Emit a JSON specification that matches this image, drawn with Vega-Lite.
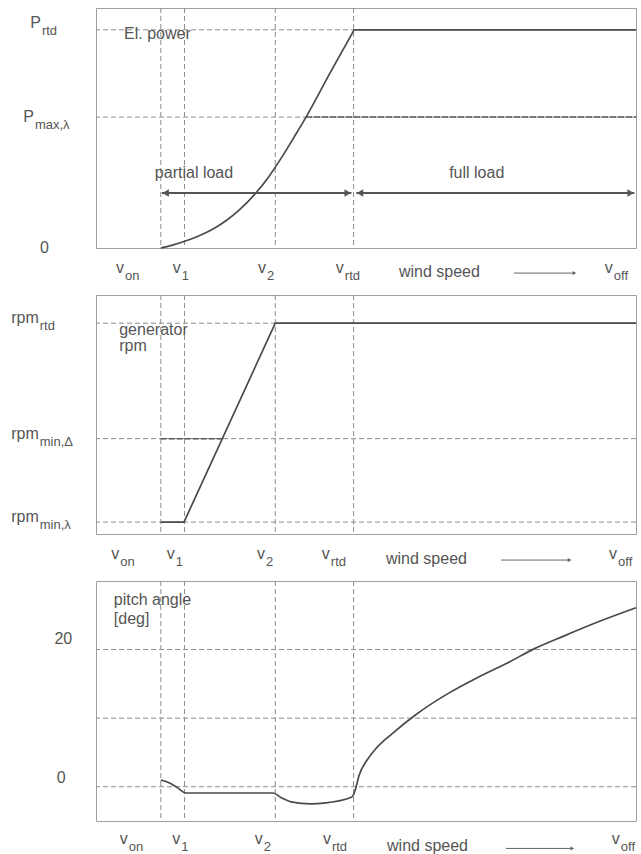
{
  "$schema": "https://vega.github.io/schema/vega-lite/v6.json",
  "padding": {"left": 10, "top": 7, "right": 5, "bottom": 0},
  "bounds": "flush",
  "spacing": 47,
  "config": {
    "view": {"stroke": "#a0a0a0", "strokeWidth": 1},
    "font": "Liberation Sans",
    "text": {"font": "Liberation Sans", "color": "#555555"}
  },
  "datasets": {
    "vgrid": [{"x": 12}, {"x": 16.4}, {"x": 33.2}, {"x": 47.7}],
    "p1_h": [{"y": 1}, {"y": 0.6}],
    "p1_curve": [
      {"x": 12, "y": 0}, {"x": 14, "y": 0.012}, {"x": 16.7, "y": 0.033}, {"x": 19, "y": 0.055},
      {"x": 21.5, "y": 0.085}, {"x": 24, "y": 0.124}, {"x": 26.5, "y": 0.174}, {"x": 29.6, "y": 0.252},
      {"x": 32, "y": 0.327}, {"x": 34.5, "y": 0.42}, {"x": 36.6, "y": 0.505}, {"x": 38.9, "y": 0.6},
      {"x": 43.3, "y": 0.8}, {"x": 47.8, "y": 1}
    ],
    "p1_flat": [{"x": 47.8, "x2": 100, "y": 1}],
    "p1_pmax": [{"x": 38.9, "x2": 100, "y": 0.6}],
    "p1_arrow": [{"x": 12.2, "x2": 47.3, "y": 0.252}, {"x": 48.2, "x2": 99.7, "y": 0.252}],
    "p1_heads": [
      {"x": 12.9, "y": 0.252, "sh": "triangle-left"}, {"x": 46.6, "y": 0.252, "sh": "triangle-right"},
      {"x": 48.9, "y": 0.252, "sh": "triangle-left"}, {"x": 99.0, "y": 0.252, "sh": "triangle-right"}
    ],
    "p1_text": [
      {"x": 5.2, "y": 0.98, "t": "El. power"}, {"x": 10.9, "y": 0.344, "t": "partial load"},
      {"x": 65.4, "y": 0.344, "t": "full load"}, {"x": 56.1, "y": -0.11, "t": "wind speed"}
    ],
    "p1_labels": [
      {"x": -10.2, "y": 1.031, "m": "P", "s": "rtd"}, {"x": -11.5, "y": 0.6, "m": "P", "s": "max,λ"},
      {"x": -8.7, "y": 0, "m": "0", "s": ""},
      {"x": 5.2, "y": -0.092, "m": "v", "s": "on"}, {"x": 15.7, "y": -0.092, "m": "v", "s": "1"},
      {"x": 31.5, "y": -0.092, "m": "v", "s": "2"}, {"x": 45.9, "y": -0.092, "m": "v", "s": "rtd"},
      {"x": 95.7, "y": -0.092, "m": "v", "s": "off"}
    ],
    "p1_ws": [{"x": 77.4, "x2": 88.4, "y": -0.115}],
    "p1_wshead": [{"x": 88.6, "y": -0.115}],
    "p2_h": [{"y": 88.2}, {"y": 39.9}, {"y": 5}],
    "p2_curve": [{"x": 12, "y": 5}, {"x": 16.3, "y": 5}, {"x": 33.2, "y": 88.2}, {"x": 100, "y": 88.2}],
    "p2_dash": [{"x": 12, "x2": 23.3, "y": 39.9}],
    "p2_text": [
      {"x": 4.3, "y": 85.3, "t": "generator"}, {"x": 4.3, "y": 78.6, "t": "rpm"},
      {"x": 53.7, "y": -10.5, "t": "wind speed"}
    ],
    "p2_labels": [
      {"x": -10.6, "y": 90.3, "m": "rpm", "s": "rtd"}, {"x": -10.6, "y": 42, "m": "rpm", "s": "min,Δ"},
      {"x": -10.6, "y": 7.1, "m": "rpm", "s": "min,λ"},
      {"x": 4.3, "y": -8.4, "m": "v", "s": "on"}, {"x": 14.6, "y": -8.4, "m": "v", "s": "1"},
      {"x": 31.3, "y": -8.4, "m": "v", "s": "2"}, {"x": 43.3, "y": -8.4, "m": "v", "s": "rtd"},
      {"x": 96.5, "y": -8.4, "m": "v", "s": "off"}
    ],
    "p2_ws": [{"x": 75, "x2": 87.5, "y": -10.9}],
    "p2_wshead": [{"x": 87.7, "y": -10.9}],
    "p3_h": [{"y": 0}, {"y": 10}, {"y": 20}],
    "p3_curve": [
      {"x": 12, "y": 0.98}, {"x": 13.9, "y": 0.45}, {"x": 15.0, "y": -0.1}, {"x": 16.7, "y": -0.92},
      {"x": 32.8, "y": -0.92}, {"x": 34.3, "y": -1.6}, {"x": 36.1, "y": -2.2}, {"x": 39.8, "y": -2.5},
      {"x": 42.2, "y": -2.4}, {"x": 47.4, "y": -1.5}, {"x": 48.0, "y": -0.5}, {"x": 48.7, "y": 1.6},
      {"x": 50.2, "y": 3.9}, {"x": 52.0, "y": 5.7}, {"x": 54.8, "y": 7.7}, {"x": 59.4, "y": 10.6},
      {"x": 65.0, "y": 13.5}, {"x": 70.6, "y": 15.9}, {"x": 76.1, "y": 18.0}, {"x": 81.1, "y": 20.1},
      {"x": 86.7, "y": 22.0}, {"x": 93.5, "y": 24.2}, {"x": 100, "y": 26.1}
    ],
    "p3_text": [
      {"x": 3.3, "y": 27.2, "t": "pitch angle"}, {"x": 3.3, "y": 24.5, "t": "[deg]"},
      {"x": 53.9, "y": -8.6, "t": "wind speed"}
    ],
    "p3_labels": [
      {"x": -4.4, "y": 21.5, "m": "20", "s": ""}, {"x": -5.6, "y": 1.3, "m": "0", "s": ""},
      {"x": 5.9, "y": -7.6, "m": "v", "s": "on"}, {"x": 15.6, "y": -7.6, "m": "v", "s": "1"},
      {"x": 30.9, "y": -7.6, "m": "v", "s": "2"}, {"x": 43.5, "y": -7.6, "m": "v", "s": "rtd"},
      {"x": 97.0, "y": -7.6, "m": "v", "s": "off"}
    ],
    "p3_ws": [{"x": 75.9, "x2": 88, "y": -9.0}],
    "p3_wshead": [{"x": 88.2, "y": -9.0}]
  },
  "vconcat": [
    {
      "width": 540, "height": 240,
      "layer": [
        {"data": {"name": "vgrid"}, "mark": {"type": "rule", "strokeDash": [5, 3], "color": "#8c8c8c", "strokeWidth": 1},
         "encoding": {"x": {"field": "x", "type": "quantitative", "scale": {"domain": [0, 100], "nice": false, "zero": false}, "axis": null}}},
        {"data": {"name": "p1_h"}, "mark": {"type": "rule", "strokeDash": [5, 3], "color": "#8c8c8c", "strokeWidth": 1},
         "encoding": {"y": {"field": "y", "type": "quantitative", "scale": {"domain": [0, 1.1], "nice": false, "zero": false}, "axis": null}}},
        {"data": {"name": "p1_pmax"}, "mark": {"type": "rule", "strokeDash": [6, 2], "color": "#555555", "strokeWidth": 1.5},
         "encoding": {"x": {"field": "x", "type": "quantitative", "scale": {"domain": [0, 100], "nice": false, "zero": false}, "axis": null}, "x2": {"field": "x2"},
                      "y": {"field": "y", "type": "quantitative", "scale": {"domain": [0, 1.1], "nice": false, "zero": false}, "axis": null}}},
        {"data": {"name": "p1_curve"}, "mark": {"type": "line", "color": "#4a4a4a", "strokeWidth": 1.7, "interpolate": "monotone"},
         "encoding": {"x": {"field": "x", "type": "quantitative", "scale": {"domain": [0, 100], "nice": false, "zero": false}, "axis": null},
                      "y": {"field": "y", "type": "quantitative", "scale": {"domain": [0, 1.1], "nice": false, "zero": false}, "axis": null}}},
        {"data": {"name": "p1_flat"}, "mark": {"type": "rule", "color": "#4a4a4a", "strokeWidth": 1.7},
         "encoding": {"x": {"field": "x", "type": "quantitative", "scale": {"domain": [0, 100], "nice": false, "zero": false}, "axis": null}, "x2": {"field": "x2"},
                      "y": {"field": "y", "type": "quantitative", "scale": {"domain": [0, 1.1], "nice": false, "zero": false}, "axis": null}}},
        {"data": {"name": "p1_arrow"}, "mark": {"type": "rule", "color": "#555555", "strokeWidth": 2},
         "encoding": {"x": {"field": "x", "type": "quantitative", "scale": {"domain": [0, 100], "nice": false, "zero": false}, "axis": null}, "x2": {"field": "x2"},
                      "y": {"field": "y", "type": "quantitative", "scale": {"domain": [0, 1.1], "nice": false, "zero": false}, "axis": null}}},
        {"data": {"name": "p1_heads"}, "mark": {"type": "point", "filled": true, "opacity": 1, "color": "#555555", "size": 55},
         "encoding": {"x": {"field": "x", "type": "quantitative", "scale": {"domain": [0, 100], "nice": false, "zero": false}, "axis": null},
                      "y": {"field": "y", "type": "quantitative", "scale": {"domain": [0, 1.1], "nice": false, "zero": false}, "axis": null},
                      "shape": {"field": "sh", "type": "nominal", "scale": null}}},
        {"data": {"name": "p1_ws"}, "mark": {"type": "rule", "color": "#666666", "strokeWidth": 1},
         "encoding": {"x": {"field": "x", "type": "quantitative", "scale": {"domain": [0, 100], "nice": false, "zero": false}, "axis": null}, "x2": {"field": "x2"},
                      "y": {"field": "y", "type": "quantitative", "scale": {"domain": [0, 1.1], "nice": false, "zero": false}, "axis": null}}},
        {"data": {"name": "p1_wshead"}, "mark": {"type": "point", "filled": true, "opacity": 1, "color": "#666666", "size": 18, "shape": "triangle-right"},
         "encoding": {"x": {"field": "x", "type": "quantitative", "scale": {"domain": [0, 100], "nice": false, "zero": false}, "axis": null},
                      "y": {"field": "y", "type": "quantitative", "scale": {"domain": [0, 1.1], "nice": false, "zero": false}, "axis": null}}},
        {"data": {"name": "p1_text"}, "mark": {"type": "text", "align": "left", "baseline": "middle", "fontSize": 16},
         "encoding": {"x": {"field": "x", "type": "quantitative", "scale": {"domain": [0, 100], "nice": false, "zero": false}, "axis": null},
                      "y": {"field": "y", "type": "quantitative", "scale": {"domain": [0, 1.1], "nice": false, "zero": false}, "axis": null},
                      "text": {"field": "t"}}},
        {"data": {"name": "p1_labels"}, "mark": {"type": "text", "align": "right", "baseline": "middle", "fontSize": 16},
         "encoding": {"x": {"field": "x", "type": "quantitative", "scale": {"domain": [0, 100], "nice": false, "zero": false}, "axis": null},
                      "y": {"field": "y", "type": "quantitative", "scale": {"domain": [0, 1.1], "nice": false, "zero": false}, "axis": null},
                      "text": {"field": "m"}}},
        {"data": {"name": "p1_labels"}, "mark": {"type": "text", "align": "left", "baseline": "middle", "fontSize": 13, "dy": 8, "dx": 1},
         "encoding": {"x": {"field": "x", "type": "quantitative", "scale": {"domain": [0, 100], "nice": false, "zero": false}, "axis": null},
                      "y": {"field": "y", "type": "quantitative", "scale": {"domain": [0, 1.1], "nice": false, "zero": false}, "axis": null},
                      "text": {"field": "s"}}}
      ]
    },
    {
      "width": 540, "height": 239,
      "layer": [
        {"data": {"name": "vgrid"}, "mark": {"type": "rule", "strokeDash": [5, 3], "color": "#8c8c8c", "strokeWidth": 1},
         "encoding": {"x": {"field": "x", "type": "quantitative", "scale": {"domain": [0, 100], "nice": false, "zero": false}, "axis": null}}},
        {"data": {"name": "p2_h"}, "mark": {"type": "rule", "strokeDash": [5, 3], "color": "#8c8c8c", "strokeWidth": 1},
         "encoding": {"y": {"field": "y", "type": "quantitative", "scale": {"domain": [0, 100], "nice": false, "zero": false}, "axis": null}}},
        {"data": {"name": "p2_dash"}, "mark": {"type": "rule", "strokeDash": [6, 2], "color": "#555555", "strokeWidth": 1.5},
         "encoding": {"x": {"field": "x", "type": "quantitative", "scale": {"domain": [0, 100], "nice": false, "zero": false}, "axis": null}, "x2": {"field": "x2"},
                      "y": {"field": "y", "type": "quantitative", "scale": {"domain": [0, 100], "nice": false, "zero": false}, "axis": null}}},
        {"data": {"name": "p2_curve"}, "mark": {"type": "line", "color": "#4a4a4a", "strokeWidth": 1.7},
         "encoding": {"x": {"field": "x", "type": "quantitative", "scale": {"domain": [0, 100], "nice": false, "zero": false}, "axis": null},
                      "y": {"field": "y", "type": "quantitative", "scale": {"domain": [0, 100], "nice": false, "zero": false}, "axis": null}}},
        {"data": {"name": "p2_ws"}, "mark": {"type": "rule", "color": "#666666", "strokeWidth": 1},
         "encoding": {"x": {"field": "x", "type": "quantitative", "scale": {"domain": [0, 100], "nice": false, "zero": false}, "axis": null}, "x2": {"field": "x2"},
                      "y": {"field": "y", "type": "quantitative", "scale": {"domain": [0, 100], "nice": false, "zero": false}, "axis": null}}},
        {"data": {"name": "p2_wshead"}, "mark": {"type": "point", "filled": true, "opacity": 1, "color": "#666666", "size": 18, "shape": "triangle-right"},
         "encoding": {"x": {"field": "x", "type": "quantitative", "scale": {"domain": [0, 100], "nice": false, "zero": false}, "axis": null},
                      "y": {"field": "y", "type": "quantitative", "scale": {"domain": [0, 100], "nice": false, "zero": false}, "axis": null}}},
        {"data": {"name": "p2_text"}, "mark": {"type": "text", "align": "left", "baseline": "middle", "fontSize": 16},
         "encoding": {"x": {"field": "x", "type": "quantitative", "scale": {"domain": [0, 100], "nice": false, "zero": false}, "axis": null},
                      "y": {"field": "y", "type": "quantitative", "scale": {"domain": [0, 100], "nice": false, "zero": false}, "axis": null},
                      "text": {"field": "t"}}},
        {"data": {"name": "p2_labels"}, "mark": {"type": "text", "align": "right", "baseline": "middle", "fontSize": 16},
         "encoding": {"x": {"field": "x", "type": "quantitative", "scale": {"domain": [0, 100], "nice": false, "zero": false}, "axis": null},
                      "y": {"field": "y", "type": "quantitative", "scale": {"domain": [0, 100], "nice": false, "zero": false}, "axis": null},
                      "text": {"field": "m"}}},
        {"data": {"name": "p2_labels"}, "mark": {"type": "text", "align": "left", "baseline": "middle", "fontSize": 13, "dy": 8, "dx": 1},
         "encoding": {"x": {"field": "x", "type": "quantitative", "scale": {"domain": [0, 100], "nice": false, "zero": false}, "axis": null},
                      "y": {"field": "y", "type": "quantitative", "scale": {"domain": [0, 100], "nice": false, "zero": false}, "axis": null},
                      "text": {"field": "s"}}}
      ]
    },
    {
      "width": 540, "height": 240,
      "layer": [
        {"data": {"name": "vgrid"}, "mark": {"type": "rule", "strokeDash": [5, 3], "color": "#8c8c8c", "strokeWidth": 1},
         "encoding": {"x": {"field": "x", "type": "quantitative", "scale": {"domain": [0, 100], "nice": false, "zero": false}, "axis": null}}},
        {"data": {"name": "p3_h"}, "mark": {"type": "rule", "strokeDash": [5, 3], "color": "#8c8c8c", "strokeWidth": 1},
         "encoding": {"y": {"field": "y", "type": "quantitative", "scale": {"domain": [-5, 30], "nice": false, "zero": false}, "axis": null}}},
        {"data": {"name": "p3_curve"}, "mark": {"type": "line", "color": "#4a4a4a", "strokeWidth": 1.7, "interpolate": "monotone"},
         "encoding": {"x": {"field": "x", "type": "quantitative", "scale": {"domain": [0, 100], "nice": false, "zero": false}, "axis": null},
                      "y": {"field": "y", "type": "quantitative", "scale": {"domain": [-5, 30], "nice": false, "zero": false}, "axis": null}}},
        {"data": {"name": "p3_ws"}, "mark": {"type": "rule", "color": "#666666", "strokeWidth": 1},
         "encoding": {"x": {"field": "x", "type": "quantitative", "scale": {"domain": [0, 100], "nice": false, "zero": false}, "axis": null}, "x2": {"field": "x2"},
                      "y": {"field": "y", "type": "quantitative", "scale": {"domain": [-5, 30], "nice": false, "zero": false}, "axis": null}}},
        {"data": {"name": "p3_wshead"}, "mark": {"type": "point", "filled": true, "opacity": 1, "color": "#666666", "size": 18, "shape": "triangle-right"},
         "encoding": {"x": {"field": "x", "type": "quantitative", "scale": {"domain": [0, 100], "nice": false, "zero": false}, "axis": null},
                      "y": {"field": "y", "type": "quantitative", "scale": {"domain": [-5, 30], "nice": false, "zero": false}, "axis": null}}},
        {"data": {"name": "p3_text"}, "mark": {"type": "text", "align": "left", "baseline": "middle", "fontSize": 16},
         "encoding": {"x": {"field": "x", "type": "quantitative", "scale": {"domain": [0, 100], "nice": false, "zero": false}, "axis": null},
                      "y": {"field": "y", "type": "quantitative", "scale": {"domain": [-5, 30], "nice": false, "zero": false}, "axis": null},
                      "text": {"field": "t"}}},
        {"data": {"name": "p3_labels"}, "mark": {"type": "text", "align": "right", "baseline": "middle", "fontSize": 16},
         "encoding": {"x": {"field": "x", "type": "quantitative", "scale": {"domain": [0, 100], "nice": false, "zero": false}, "axis": null},
                      "y": {"field": "y", "type": "quantitative", "scale": {"domain": [-5, 30], "nice": false, "zero": false}, "axis": null},
                      "text": {"field": "m"}}},
        {"data": {"name": "p3_labels"}, "mark": {"type": "text", "align": "left", "baseline": "middle", "fontSize": 13, "dy": 8, "dx": 1},
         "encoding": {"x": {"field": "x", "type": "quantitative", "scale": {"domain": [0, 100], "nice": false, "zero": false}, "axis": null},
                      "y": {"field": "y", "type": "quantitative", "scale": {"domain": [-5, 30], "nice": false, "zero": false}, "axis": null},
                      "text": {"field": "s"}}}
      ]
    }
  ]
}
